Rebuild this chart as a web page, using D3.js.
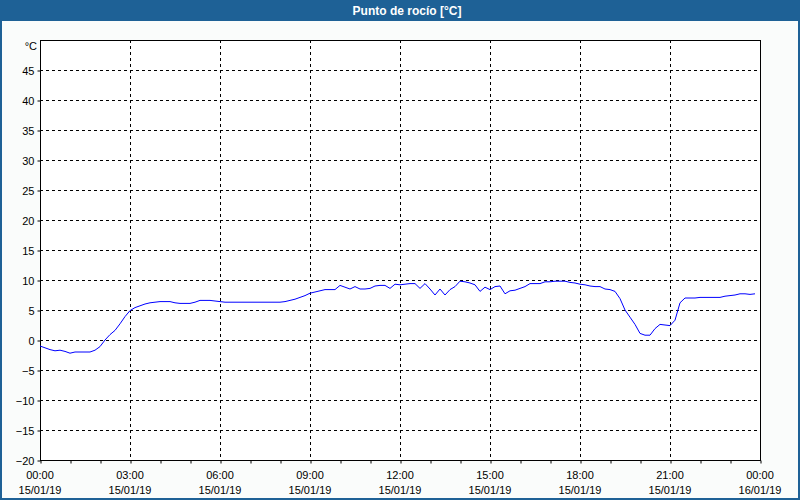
<!DOCTYPE html>
<html><head><meta charset="utf-8">
<script src="https://cdn.jsdelivr.net/npm/d3@7"></script>
<style>
html,body{margin:0;padding:0;background:#fff;}
svg{display:block;}
text{font-family:"Liberation Sans",Arial,sans-serif;}
</style></head>
<body>
<svg id="c" width="800" height="500"></svg>
<script>
// ---- data ----
const title = "Punto de rocío [°C]";
const unitLabel = "°C";
const times = ["00:00","00:10","00:20","00:30","00:40","00:50","01:00","01:10","01:20","01:30","01:40","01:50",
"02:00","02:10","02:20","02:30","02:40","02:50","03:00","03:10","03:20","03:30","03:40","03:50",
"04:00","04:10","04:20","04:30","04:40","04:50","05:00","05:10","05:20","05:30","05:40","05:50",
"06:00","06:10","08:00","08:10","08:20","08:30","08:40","08:50",
"09:00","09:10","09:20","09:30","09:40","09:50","10:00","10:10","10:20","10:30","10:40","10:50",
"11:00","11:10","11:20","11:30","11:40","11:50","12:00","12:10","12:20","12:30","12:40","12:50",
"13:00","13:10","13:20","13:30","13:40","13:50","14:00","14:10","14:20","14:30","14:40","14:50",
"15:00","15:10","15:20","15:30","15:40","15:50","16:00","16:10","16:20","16:30","16:40","16:50",
"17:00","17:10","17:20","17:30","17:40","17:50","18:00","18:10","18:20","18:30","18:40","18:50",
"19:00","19:10","19:20","19:30","19:40","19:50","20:00","20:10","20:20","20:30","20:40","20:50",
"21:00","21:10","21:20","21:30","21:40","21:50","22:00","22:10","22:20","22:30","22:40","22:50",
"23:00","23:10","23:20","23:30","23:40","23:50"];
const dewPoint = [-1.0,-1.3,-1.6,-1.8,-1.7,-1.9,-2.2,-2.0,-2.0,-2.0,-2.0,-1.7,
-1.1,0.0,0.9,1.6,2.7,3.9,4.9,5.4,5.7,6.0,6.2,6.3,
6.4,6.4,6.4,6.2,6.1,6.1,6.1,6.3,6.6,6.6,6.6,6.5,
6.4,6.3,6.3,6.4,6.6,6.8,7.1,7.4,
7.8,8.0,8.2,8.4,8.4,8.4,9.1,8.8,8.5,8.9,8.5,8.5,
8.6,9.0,9.1,9.1,8.6,9.3,9.2,9.3,9.4,9.4,8.6,9.4,
8.5,7.5,8.5,7.5,8.4,8.9,9.8,9.7,9.5,9.2,8.1,8.8,
8.4,8.9,9.0,7.7,8.2,8.3,8.6,8.9,9.4,9.4,9.4,9.7,
9.7,9.8,9.8,9.8,9.6,9.5,9.3,9.2,9.0,8.9,8.9,8.5,
8.4,8.1,6.9,5.0,3.8,2.6,1.1,0.8,0.8,1.9,2.6,2.5,
2.4,3.3,6.2,7.0,7.0,7.0,7.1,7.1,7.1,7.1,7.1,7.3,
7.4,7.5,7.7,7.7,7.6,7.7];
const yTicks = [-20,-15,-10,-5,0,5,10,15,20,25,30,35,40,45];
const xTickTimes = ["00:00","03:00","06:00","09:00","12:00","15:00","18:00","21:00","00:00"];
const xTickDates = ["15/01/19","15/01/19","15/01/19","15/01/19","15/01/19","15/01/19","15/01/19","15/01/19","16/01/19"];
const xTickMinutes = [0,180,360,540,720,900,1080,1260,1440];
const minorTickMinutes = d3.range(0,1441,60);

// ---- drawing ----
const svg = d3.select("#c");
const W=800,H=500;
const toMin = s => { const [h,m]=s.split(":").map(Number); return h*60+m; };
const x = d3.scaleLinear().domain([0,1440]).range([40,760]);
const y = d3.scaleLinear().domain([-20,50]).range([460,40]);

svg.append("rect").attr("x",0).attr("y",0).attr("width",W).attr("height",H).attr("fill","#fafcfb");
svg.append("rect").attr("x",x(0)).attr("y",y(50)).attr("width",x(1440)-x(0)).attr("height",y(-20)-y(50)).attr("fill","#ffffff");

// title bar
svg.append("rect").attr("x",0).attr("y",0).attr("width",W).attr("height",21).attr("fill","#1e6196");
svg.append("text").attr("x",407).attr("y",15).attr("text-anchor","middle")
  .attr("font-size","12px").attr("font-weight","bold").attr("fill","#ffffff").text(title);
// outer border
svg.append("rect").attr("x",1).attr("y",1).attr("width",W-2).attr("height",H-2)
  .attr("fill","none").attr("stroke","#1e6196").attr("stroke-width",2);

// grid
const g = svg.append("g");
g.selectAll("line.hg").data(yTicks.filter(v=>v>-20)).enter().append("line")
  .attr("x1",x(0)).attr("x2",x(1440)).attr("y1",d=>Math.round(y(d))+0.5).attr("y2",d=>Math.round(y(d))+0.5)
  .attr("stroke","#000").attr("stroke-dasharray","3,3").attr("shape-rendering","crispEdges");
g.selectAll("line.vg").data(xTickMinutes.slice(1,-1)).enter().append("line")
  .attr("y1",y(50)).attr("y2",y(-20)).attr("x1",d=>Math.round(x(d))+0.5).attr("x2",d=>Math.round(x(d))+0.5)
  .attr("stroke","#000").attr("stroke-dasharray","3,3").attr("shape-rendering","crispEdges");

// y axis
const yAxis = d3.axisLeft(y).tickValues(yTicks).tickSize(3).tickPadding(3).tickFormat(d3.format("d"));
const ya = svg.append("g").attr("transform","translate(40.5,0.5)").call(yAxis);
ya.select(".domain").remove();
ya.selectAll("text").attr("font-size","11px").attr("fill","#000").attr("font-family","Liberation Sans, Arial, sans-serif");
ya.selectAll("line").attr("stroke","#000");
svg.append("text").attr("x",37).attr("y",50).attr("text-anchor","end").attr("font-size","11px").attr("fill","#000").text(unitLabel);

// x axis minor ticks
const xMinor = d3.axisBottom(x).tickValues(minorTickMinutes).tickSize(3).tickFormat("");
const xm = svg.append("g").attr("transform","translate(0.5,460.5)").call(xMinor);
xm.select(".domain").remove();
xm.selectAll("line").attr("stroke","#000");
// x labels
const xl = svg.append("g");
xl.selectAll("text.t").data(xTickMinutes).enter().append("text")
  .attr("x",d=>x(d)).attr("y",479).attr("text-anchor","middle").attr("font-size","11px").attr("fill","#000")
  .text((d,i)=>xTickTimes[i]);
xl.selectAll("text.d").data(xTickMinutes).enter().append("text")
  .attr("x",d=>x(d)).attr("y",494).attr("text-anchor","middle").attr("font-size","11px").attr("fill","#000")
  .text((d,i)=>xTickDates[i]);

// frame
svg.append("rect").attr("x",40.5).attr("y",40.5).attr("width",720).attr("height",420)
  .attr("fill","none").attr("stroke","#000").attr("stroke-width",1);

// data line
const data = times.map((t,i)=>({m:toMin(t), v:dewPoint[i]}));
svg.append("path").datum(data)
  .attr("d", d3.line().x(d=>x(d.m)).y(d=>y(d.v)))
  .attr("fill","none").attr("stroke","#0000ff").attr("stroke-width",1);
</script>
</body></html>
